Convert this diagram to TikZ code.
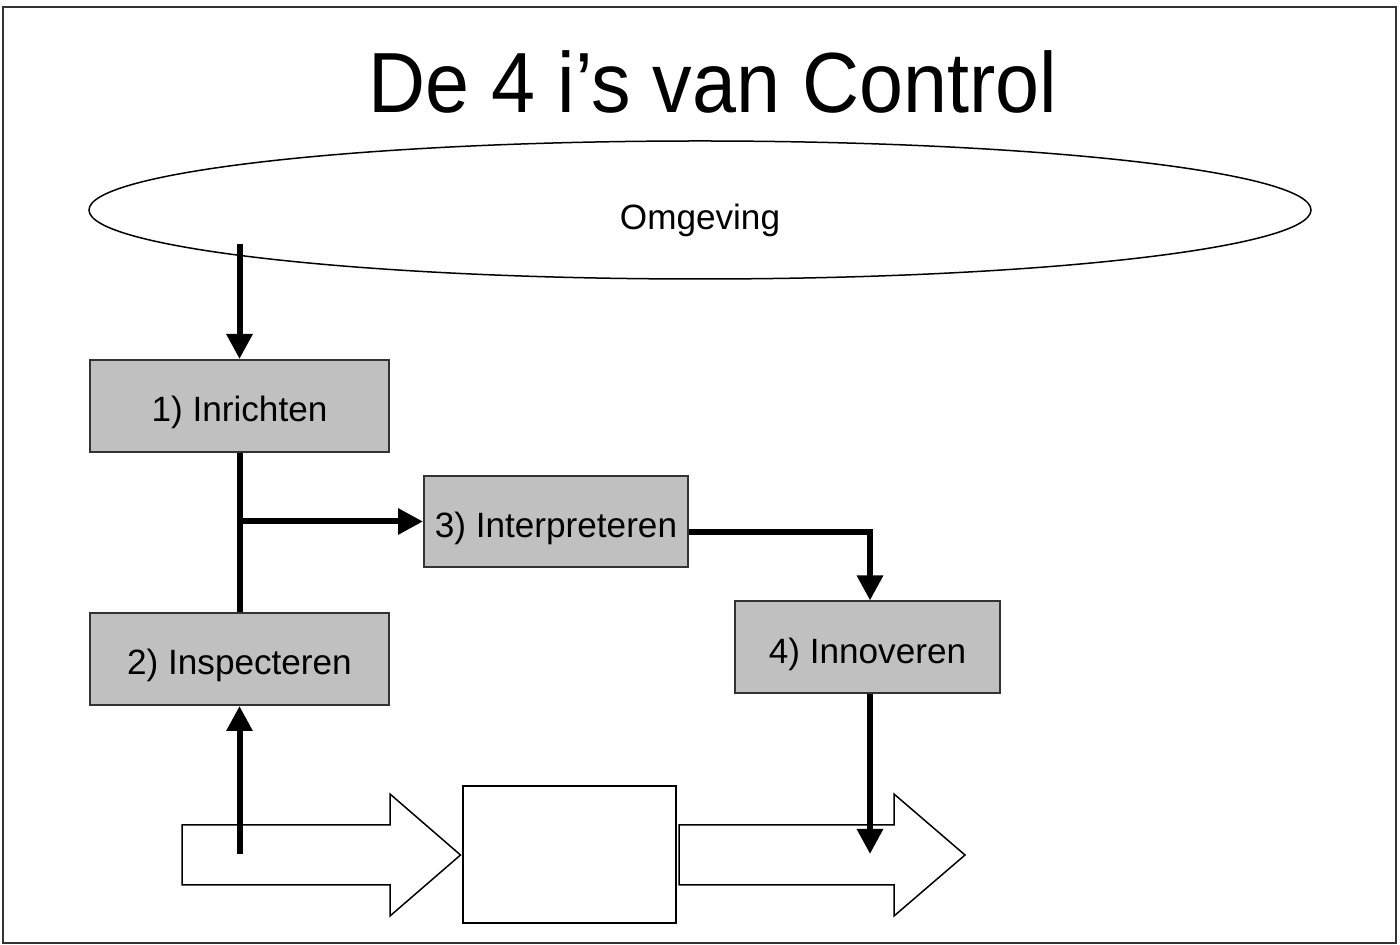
\documentclass[tikz,border=0pt]{standalone}
\usepackage{fontspec}
\setmainfont{Liberation Sans}
\definecolor{boxgray}{RGB}{192,192,192}
\definecolor{edgegray}{RGB}{51,51,51}
\usetikzlibrary{calc, positioning, arrows.meta, shapes.geometric}
\tikzset{
  stepbox/.style={draw=edgegray, line width=0.02cm, fill=boxgray,
    minimum width=2.99cm, minimum height=0.92cm, inner sep=0pt,
    text height=0.39cm, text depth=0.07cm,
    font=\fontsize{10}{12}\selectfont},
  flowline/.style={line width=0.06cm},
  flowarrow/.style={line width=0.06cm, -{Triangle[length=0.25cm, width=0.25cm]}},
  blockarrow/.style={draw=black, line width=0.015cm, fill=white},
}

\begin{document}
\begin{tikzpicture}
  \useasboundingbox (0,0) rectangle (14,-9.45);
  \draw[line width=0.015cm, black!80] (0.03,-0.07) rectangle (13.96,-9.43);

  \node[font=\fontsize{22.5}{26}\selectfont, anchor=base] (title) at (7.13,-1.13)
    {\scalebox{1}[1.08]{De 4 i’s van Control}};
  \node[draw, ellipse, line width=0.015cm, minimum width=12.22cm, minimum height=1.38cm,
    inner sep=0pt, text height=0.46cm, text depth=0.07cm,
    font=\fontsize{10}{12}\selectfont] (omg) at (7.0,-2.1) {Omgeving};

  \node[stepbox] (inr) at (2.395,-4.06) {1) Inrichten};
  \node[stepbox] (insp) at (2.395,-6.59) {2) Inspecteren};
  \node[stepbox, minimum width=2.64cm, minimum height=0.91cm] (interp) at (5.56,-5.215) {3) Interpreteren};
  \node[stepbox, minimum width=2.65cm] (innov) at (8.675,-6.475) {4) Innoveren};
  \node[draw, line width=0.015cm, fill=white, minimum width=2.13cm, minimum height=1.37cm,
    inner sep=0pt] (proc) at (5.695,-8.545) {};

  \draw[blockarrow] (1.82,-8.25) -- (3.90,-8.25) -- (3.90,-7.94) -- (4.605,-8.55)
    -- (3.90,-9.16) -- (3.90,-8.85) -- (1.82,-8.85) -- cycle;
  \draw[blockarrow] (6.79,-8.25) -- (8.94,-8.25) -- (8.94,-7.94) -- (9.65,-8.55)
    -- (8.94,-9.16) -- (8.94,-8.85) -- (6.79,-8.85) -- cycle;

  \coordinate (omgout) at (2.395,-2.44);
  \coordinate (inspin) at (2.395,-8.54);
  \coordinate (innovout) at (8.70,-8.54);

  \draw[flowarrow] (omgout) -- (inr.north);
  \draw[flowline] (inr.south) -- (insp.north);
  \draw[flowarrow] (inr.south |- interp.west) -- (interp.west);
  \draw[flowarrow] ([yshift=-0.11cm]interp.east) -| (innovout |- innov.north);
  \draw[flowarrow] (innovout |- innov.south) -- (innovout);
  \draw[flowarrow] (inspin) -- (insp.south);
\end{tikzpicture}
\end{document}
